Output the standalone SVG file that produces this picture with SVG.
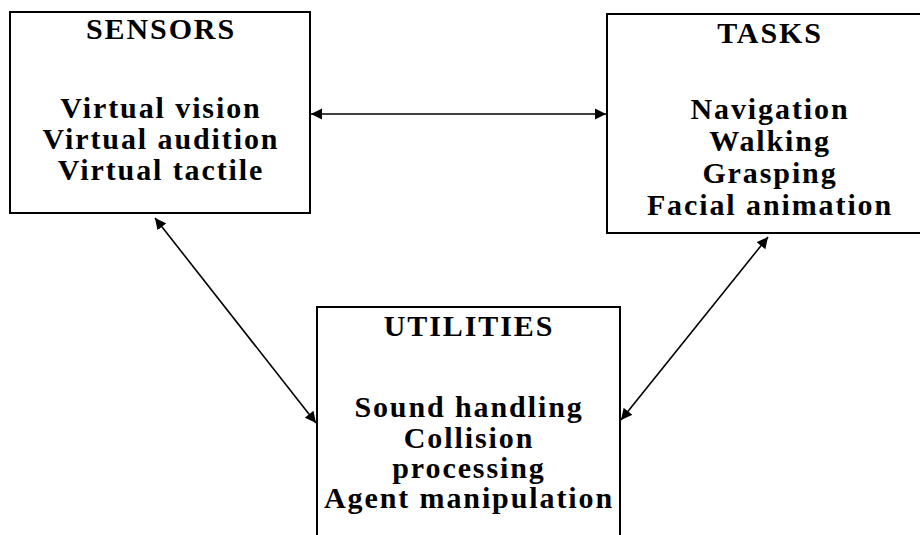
<svg xmlns="http://www.w3.org/2000/svg" width="920" height="535" viewBox="0 0 920 535">
<style>
.box{fill:#fff;stroke:#000;stroke-width:2}
.t{font-family:"Liberation Serif","Times New Roman",serif;font-weight:bold;font-size:30px;letter-spacing:1.9px;text-anchor:middle;fill:#000}
.c{stroke:#000;stroke-width:1.6;fill:none;marker-start:url(#ah);marker-end:url(#ah)}
</style>
<defs>
<marker id="ah" viewBox="0 0 10 10" refX="10" refY="5" markerWidth="7" markerHeight="7" orient="auto-start-reverse" markerUnits="strokeWidth">
<path d="M0,0 L10,5 L0,10 z" fill="#000"/>
</marker>
</defs>
<rect width="920" height="535" fill="#fff"/>
<g id="sensors">
<rect class="box" x="10" y="12" width="300" height="201"/>
<text class="t" x="161" y="39">SENSORS</text>
<text class="t" x="161" y="118">Virtual vision</text>
<text class="t" x="161" y="149">Virtual audition</text>
<text class="t" x="161" y="180">Virtual tactile</text>
</g>
<g id="tasks">
<rect class="box" x="607" y="14" width="330" height="219"/>
<text class="t" x="770" y="43">TASKS</text>
<text class="t" x="770" y="119">Navigation</text>
<text class="t" x="770" y="151">Walking</text>
<text class="t" x="770" y="183">Grasping</text>
<text class="t" x="770" y="215">Facial animation</text>
</g>
<g id="utilities">
<rect class="box" x="317" y="307" width="303" height="240"/>
<text class="t" x="469" y="336">UTILITIES</text>
<text class="t" x="469" y="417">Sound handling</text>
<text class="t" x="469" y="448">Collision</text>
<text class="t" x="469" y="478">processing</text>
<text class="t" x="469" y="508">Agent manipulation</text>
</g>
<g id="connectors">
<line class="c" x1="311" y1="114" x2="606" y2="114"/>
<line class="c" x1="155" y1="218" x2="316" y2="423"/>
<line class="c" x1="768" y1="237" x2="621" y2="420"/>
</g>
</svg>
